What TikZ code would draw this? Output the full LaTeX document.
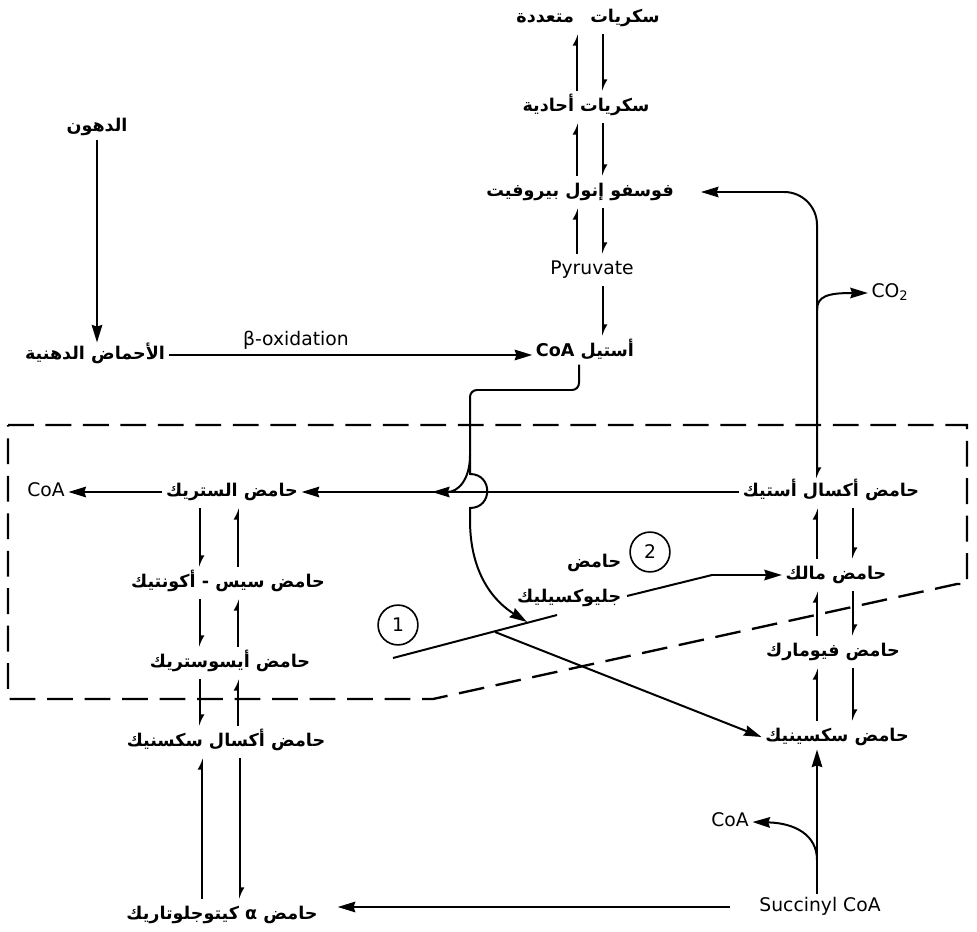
\documentclass[tikz,border=0pt]{standalone}
\usepackage{fontspec}
\usepackage{tikz}
\usetikzlibrary{arrows.meta}
\setmainfont{DejaVu Sans}
\newfontfamily\arabicfont[Script=Arabic]{DejaVu Sans}
\TeXXeTstate=1
\newcommand{\arabtext}[1]{{\arabicfont\bfseries\beginR #1\endR}}

\begin{document}
\begin{tikzpicture}[x=0.03cm, y=-0.03cm,
  lbl/.style={inner sep=3pt, text height=11pt, text depth=4pt, font=\fontsize{16pt}{19pt}\selectfont},
  albl/.style={lbl, font=\fontsize{15pt}{18pt}\selectfont},
  big/.style={line width=1.7pt, -{Stealth[length=15pt,width=9pt,inset=1.5pt]}},
  thk/.style={line width=1.7pt},
  pairarr/.style={line width=1.3pt, -{Latex[harpoon,length=8pt,width=8pt]}, shorten >=3pt, shorten <=3pt},
  enzyme/.style={circle, draw, line width=1.4pt, minimum size=34pt, inner sep=0pt, font=\fontsize{16pt}{19pt}\selectfont},
  boxline/.style={line width=2pt, dash pattern=on 22pt off 10pt}]
  \useasboundingbox (0,0) rectangle (977,932);

  % sugars and fats
  \node[albl] (poly) at (588,18) {\arabtext{سكريات\hspace{14pt}متعددة}};
  \node[albl] (mono) at (586,107) {\arabtext{سكريات أحادية}};
  \node[albl] (pep) at (580,192) {\arabtext{فوسفو إنول بيروفيت}};
  \node[lbl] (pyr) at (592,270) {Pyruvate};
  \node[albl] (acoa) at (585,352) {\arabtext{أستيل \beginL CoA\endL}};
  \node[albl] (fats) at (97,127) {\arabtext{الدهون}};
  \node[albl] (fatty) at (95,355) {\arabtext{الأحماض الدهنية}};

  % left side of the cycle
  \node[lbl] (coaL) at (46,492) {CoA};
  \node[albl] (cit) at (232,492) {\arabtext{حامض الستريك}};
  \node[albl] (cis) at (228,583) {\arabtext{حامض سيس - أكونتيك}};
  \node[albl] (iso) at (230,663) {\arabtext{حامض أيسوستريك}};
  \node[albl] (oxs) at (226,742) {\arabtext{حامض أكسال سكسنيك}};
  \node[albl] (akg) at (222,915) {\arabtext{حامض α كيتوجلوتاريك}};

  % right side of the cycle
  \node[albl] (oaa) at (831,492) {\arabtext{حامض أكسال أستيك}};
  \node[albl] (mal) at (836,575) {\arabtext{حامض مالك}};
  \node[albl] (fum) at (833,652) {\arabtext{حامض فيومارك}};
  \node[albl] (suc) at (837,737) {\arabtext{حامض سكسينيك}};
  \node[lbl] (scoa) at (820,907) {Succinyl CoA};
  \node[lbl] (coaB) at (730,822) {CoA};
  \node[lbl] (co2) at (890,293) {CO\textsubscript{2}};

  % glyoxylate shunt
  \node[albl, anchor=east] (glxA) at (625,563) {\arabtext{حامض}};
  \node[albl, anchor=east] (glxB) at (625,598) {\arabtext{جليوكسيليك}};
  \node[enzyme] (e1) at (398,625) {1};
  \node[enzyme] (e2) at (650,552) {2};

  \coordinate (upT) at (577,0); \coordinate (dnT) at (603,0);
  \coordinate (dnL) at (200,0); \coordinate (upL) at (238,0);
  \coordinate (upK) at (202,0); \coordinate (dnK) at (240,0);
  \coordinate (upR) at (817,0); \coordinate (dnR) at (853,0);

  % two-way steps
  \foreach \a/\b in {poly/mono, mono/pep, pep/pyr} {
    \draw[pairarr] (\b.north -| upT) -- (\a.south -| upT);
    \draw[pairarr] (\a.south -| dnT) -- (\b.north -| dnT);
  }
  \foreach \a/\b in {cit/cis, cis/iso, iso/oxs} {
    \draw[pairarr] (\a.south -| dnL) -- (\b.north -| dnL);
    \draw[pairarr] (\b.north -| upL) -- (\a.south -| upL);
  }
  \draw[pairarr] (akg.north -| upK) -- (oxs.south -| upK);
  \draw[pairarr] (oxs.south -| dnK) -- (akg.north -| dnK);
  \foreach \a/\b in {oaa/mal, mal/fum, fum/suc} {
    \draw[pairarr] (\b.north -| upR) -- (\a.south -| upR);
    \draw[pairarr] (\a.south -| dnR) -- (\b.north -| dnR);
  }
  \draw[pairarr] (pyr.south -| dnT) -- (acoa.north -| dnT);

  % fats to acetyl CoA
  \draw[big] (fats) -- (fats |- fatty.north);
  \draw[big] (fatty.east) -- node[lbl, pos=0.35, above] (betaox) {β-oxidation} (fatty.east -| acoa.west);

  % oxaloacetate back to PEP
  \draw[line width=1.7pt, {Latex[harpoon,length=8pt,width=8pt]}-{Stealth[length=15pt,width=9pt,inset=1.5pt]},
    rounded corners=28pt, shorten >=20pt]
    (oaa.north -| upR) -- (upR |- pep) -- (pep.east);
  \coordinate (cob) at (817,310);
  \draw[big] (cob) .. controls (817,296) and (828,293) .. (co2.west);

  % acetyl CoA into the cycle
  \coordinate (acx) at (579,0);
  \coordinate (split) at (470,455);
  \coordinate (citin) at (432,492);
  \coordinate (ghit) at (527,622);
  \draw[thk, rounded corners=6pt] (acoa.south -| acx) -- (579,390) -- (470,390) -- (split);
  \draw[big] (split) .. controls (470,480) and (458,492) .. (citin);
  \draw[big] (split) -- (470,474) .. controls (493,474) and (493,508) .. (470,508)
    -- (470,520) .. controls (470,575) and (495,602) .. (ghit);
  \draw[big] (oaa.west) -- (cit.east);
  \draw[big] (cit.west) -- (coaL.east);

  % isocitrate split and malate synthase
  \coordinate (g0) at (393,658); \coordinate (g1) at (557,615);
  \coordinate (g2) at (627,596); \coordinate (g3) at (712,575);
  \coordinate (gx) at (495,632);
  \draw[thk] (g0) -- (g1);
  \draw[big] (g2) -- (g3) -- (mal.west);
  \draw[big] (gx) -- (suc.west);

  % succinyl CoA
  \draw[big] (scoa.north -| upR) -- (suc.south -| upR);
  \coordinate (sb) at (817,860);
  \draw[big] (sb) .. controls (817,835) and (795,823) .. (coaB.east);
  \draw[big, shorten <=22pt, shorten >=14pt] (scoa.west) -- (scoa.west -| akg.east);

  % compartment
  \draw[boxline] (8,425) -- (967,425) -- (967,584) -- (957,584) -- (433,699) -- (8,699) -- cycle;
\end{tikzpicture}
\end{document}
